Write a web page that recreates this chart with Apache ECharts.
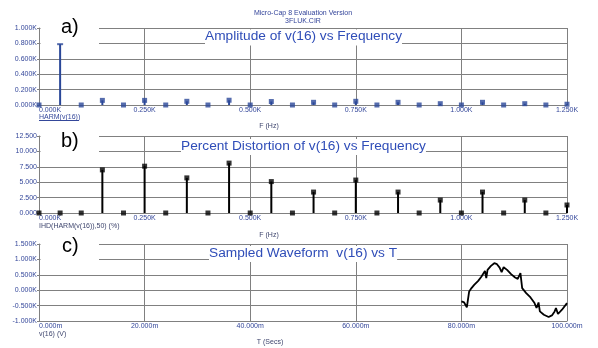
<!DOCTYPE html>
<html><head><meta charset="utf-8">
<script src="https://cdn.jsdelivr.net/npm/echarts@6/dist/echarts.min.js"></script>
<style>html,body{margin:0;padding:0;background:#fff}#c{width:598px;height:348px}</style>
</head><body><div id="c"></div>
<script>
// Harmonic frequencies (Hz)
const harmonicFreqHz = [0,50,100,150,200,250,300,350,400,450,500,550,600,650,700,750,800,850,900,950,1000,1050,1100,1150,1200,1250];
// a) amplitude of v(16) in K
const amplitudeK = [0,0.79,0,0.060,0,0.060,0,0.048,0,0.062,0,0.045,0,0.035,0,0.048,0,0.035,0,0.017,0,0.035,0,0.017,0,0.010];
// b) percent distortion
const distortionPct = [0,0,0,7.0,0,7.6,0,5.7,0,8.1,0,5.1,0,3.4,0,5.35,0,3.4,0,2.1,0,3.4,0,2.1,0,1.3];
// c) sampled waveform
const waveTimeMs = [80.0,80.52,81.03,81.47,81.91,82.42,83.18,83.81,84.46,84.71,84.95,85.6,86.23,86.74,87.24,87.62,88.0,88.65,89.41,90.17,90.67,91.18,91.51,92.27,93.09,93.85,94.23,94.61,94.86,95.62,96.52,97.14,97.66,97.91,98.29,99.05,100.0];
const waveVoltK = [-0.365,-0.398,-0.559,-0.042,0.068,0.175,0.304,0.443,0.627,0.391,0.660,0.789,0.876,0.844,0.734,0.585,0.747,0.660,0.521,0.411,0.369,0.553,0.068,-0.094,-0.236,-0.417,-0.579,-0.398,-0.689,-0.796,-0.870,-0.818,-0.689,-0.579,-0.773,-0.634,-0.42];

const FONT = "'Liberation Sans', Arial, sans-serif";
const LBL = '#34479a';
const DARK = '#3f466e';
const GRID = '#808080';
const BLUE = '#2a4798';
const TITLEC = '#2f4db8';

function xAxisCfg(gi, min, max, interval, fmt) {
  return {type:'value', gridIndex:gi, min, max, interval,
    axisLine:{show:true, onZero:false, lineStyle:{color:GRID, width:1}},
    axisTick:{show:false},
    splitLine:{show:true, lineStyle:{color:GRID, width:1}},
    axisLabel:{fontSize:7, fontFamily:FONT, color:LBL, margin:2, formatter:fmt, alignMinLabel:'left'}};
}
function yAxisCfg(gi, min, max, interval, fmt) {
  return {type:'value', gridIndex:gi, min, max, interval,
    axisLine:{show:true, onZero:false, lineStyle:{color:GRID, width:1}},
    axisTick:{show:true, length:2, lineStyle:{color:GRID}},
    splitLine:{show:true, lineStyle:{color:GRID, width:1}},
    axisLabel:{fontSize:7, fontFamily:FONT, color:LBL, margin:2, formatter:fmt}};
}
const fK = v => (v/1000).toFixed(3) + 'K';

const ampData = harmonicFreqHz.map((f,i)=>[f, amplitudeK[i]]);
const pctData = harmonicFreqHz.map((f,i)=>[f, distortionPct[i]]);
const waveData = waveTimeMs.map((t,i)=>[t, waveVoltK[i]]);

function txt(text, x, y, opts) {
  return Object.assign({type:'text', x, y, z:5, style:Object.assign({text, fontSize:7, fontFamily:FONT, fill:DARK, align:'left', verticalAlign:'middle'}, opts||{})});
}
const titleStyle = {fontSize:13.7, fontWeight:'normal', color:TITLEC, fontFamily:FONT, lineHeight:14};

const chart = echarts.init(document.getElementById('c'));
chart.setOption({
  animation:false,
  backgroundColor:'#fff',
  grid:[
    {left:39, top:28, width:528, height:77},
    {left:39, top:136, width:528, height:77},
    {left:39, top:244, width:528, height:77}
  ],
  xAxis:[
    xAxisCfg(0,0,1250,250,fK),
    xAxisCfg(1,0,1250,250,fK),
    xAxisCfg(2,0,100,20,v=>v.toFixed(3)+'m')
  ],
  yAxis:[
    yAxisCfg(0,0,1,0.2,v=>v.toFixed(3)+'K'),
    yAxisCfg(1,0,12.5,2.5,v=>v.toFixed(3)),
    yAxisCfg(2,-1,1.5,0.5,v=>v.toFixed(3)+'K')
  ],
  title:[
    {text:'Amplitude of v(16) vs Frequency', left:205, top:29.5, padding:[0,0,2,0], backgroundColor:'#fff', textStyle:titleStyle},
    {text:'Percent Distortion of v(16) vs Frequency', left:181, top:139, padding:[0,0,2,0], backgroundColor:'#fff', textStyle:titleStyle},
    {text:'Sampled Waveform  v(16) vs T', left:209, top:246, padding:[0,0,2,0], backgroundColor:'#fff', textStyle:titleStyle}
  ],
  graphic:[
    {type:'rect', shape:{x:40.5,y:16,width:58.5,height:28}, style:{fill:'#fff'}, z:1},
    {type:'rect', shape:{x:40.5,y:126,width:58.5,height:28}, style:{fill:'#fff'}, z:1},
    {type:'rect', shape:{x:40.5,y:234,width:58.5,height:28}, style:{fill:'#fff'}, z:1},
    txt('a)', 61, 27.5, {fontSize:20, fill:'#000'}),
    txt('b)', 61, 141, {fontSize:20, fill:'#000'}),
    txt('c)', 62, 246, {fontSize:20, fill:'#000'}),
    txt('Micro-Cap 8 Evaluation Version', 303, 13.5, {align:'center', fill:'#33449a'}),
    txt('3FLUK.CIR', 303, 21.5, {align:'center', fill:'#33449a'}),
    txt('HARM(v(16))', 39, 117.5, {fill:LBL}),
    {type:'line', z:5, shape:{x1:39,y1:120.5,x2:79,y2:120.5}, style:{stroke:LBL, lineWidth:1}},
    txt('F (Hz)', 269, 126.5, {align:'center'}),
    txt('IHD(HARM(v(16)),50) (%)', 39, 226.3),
    txt('F (Hz)', 269, 235, {align:'center'}),
    txt('v(16) (V)', 39, 334),
    txt('T (Secs)', 270, 342.5, {align:'center'})
  ],
  series:[
    {type:'bar', xAxisIndex:0, yAxisIndex:0, data:ampData, barWidth:2, itemStyle:{color:BLUE}, silent:true, z:2},
    {type:'scatter', xAxisIndex:0, yAxisIndex:0, data:ampData, symbol:'rect',
     symbolSize:v => v[1] > 0.5 ? [6,2] : 5, itemStyle:{color:BLUE}, silent:true, z:3},
    {type:'bar', xAxisIndex:1, yAxisIndex:1, data:pctData, barWidth:2, itemStyle:{color:'#000'}, silent:true, z:2},
    {type:'scatter', xAxisIndex:1, yAxisIndex:1, data:pctData, symbol:'rect', symbolSize:5, itemStyle:{color:'#000'}, silent:true, z:3},
    {type:'line', xAxisIndex:2, yAxisIndex:2, data:waveData, showSymbol:false, lineStyle:{color:'#000', width:1.8}, silent:true, z:3}
  ]
});
</script></body></html>
